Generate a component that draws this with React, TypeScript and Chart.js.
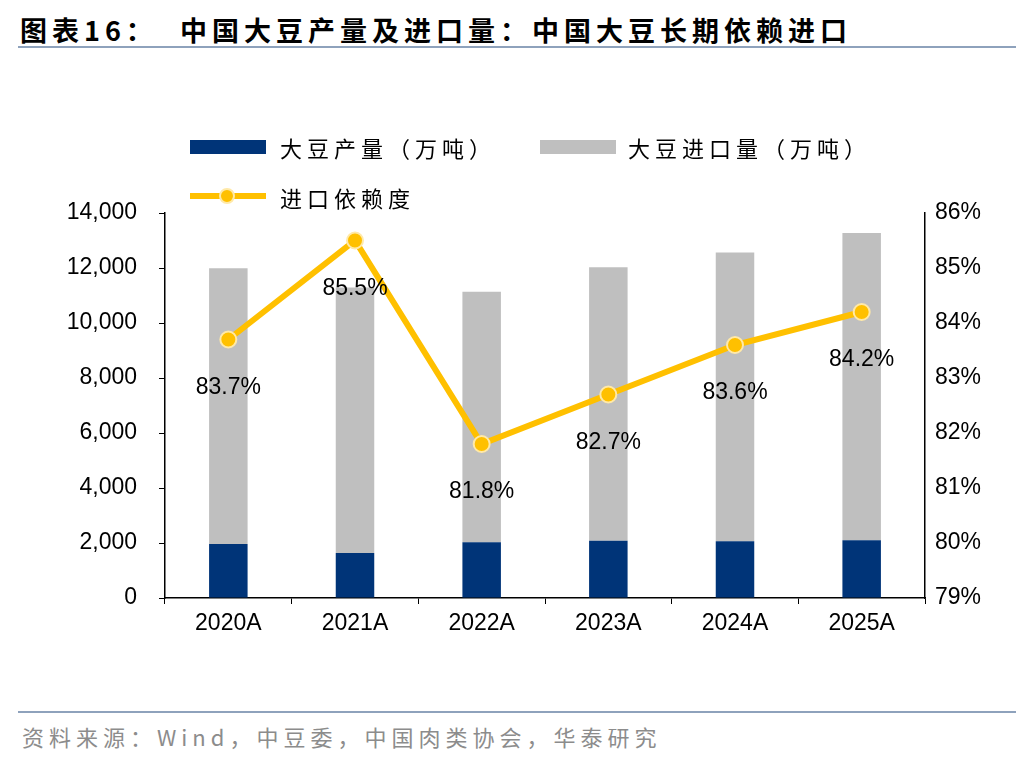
import React, { useEffect, useRef } from "react";
import { Chart, registerables } from "chart.js";
Chart.register(...registerables);

const categories = ["2020A", "2021A", "2022A", "2023A", "2024A", "2025A"];
const production = [1960, 1640, 2028, 2084, 2065, 2100];
const imports = [10033, 9652, 9108, 9941, 10503, 11170];
const dependence = [83.7, 85.5, 81.8, 82.7, 83.6, 84.2];
const leftTicks = [0, 2000, 4000, 6000, 8000, 10000, 12000, 14000];

const FONT = "'Liberation Sans', Arial, sans-serif";
const CJK = "'Noto Sans CJK SC', sans-serif";

const labelPlugin = {
  id: "lbl",
  afterDatasetsDraw(chart: any) {
    const meta = chart.getDatasetMeta(0);
    const ctx = chart.ctx;
    ctx.save();
    ctx.font = "23px " + FONT;
    ctx.fillStyle = "#000";
    ctx.textAlign = "center";
    ctx.textBaseline = "middle";
    meta.data.forEach((p: any, i: number) => {
      ctx.fillText(dependence[i].toFixed(1) + "%", p.x, p.y + 48);
    });
    ctx.restore();
  },
};

export default function App() {
  const ref = useRef<HTMLCanvasElement>(null);
  useEffect(() => {
    document.body.style.margin = "0";
    const axisGrid = { drawOnChartArea: false, color: "#000", tickLength: 6, tickColor: "#000" };
    const chart = new Chart(ref.current!, {
      data: {
        labels: categories,
        datasets: [
          { type: "line", label: "进口依赖度", data: dependence, yAxisID: "y2", borderColor: "#FFC000", borderWidth: 6, pointRadius: 8, pointBackgroundColor: "#FFC000", pointBorderColor: "#FFE9A8", pointBorderWidth: 2, order: 0 } as any,
          { type: "bar", label: "大豆产量（万吨）", data: production, backgroundColor: "#003478", stack: "s", barPercentage: 0.38, categoryPercentage: 0.8, order: 2 },
          { type: "bar", label: "大豆进口量（万吨）", data: imports, backgroundColor: "#BFBFBF", stack: "s", barPercentage: 0.38, categoryPercentage: 0.8, order: 2 },
        ],
      },
      options: {
        animation: false,
        responsive: false,
        layout: { padding: { top: 213, bottom: 62, left: 0, right: 0 } },
        plugins: { legend: { display: false }, tooltip: { enabled: false } },
        scales: {
          x: {
            stacked: true,
            grid: { ...axisGrid, offset: true },
            border: { color: "#000", width: 1.5 },
            ticks: { color: "#000", font: { family: FONT, size: 23 }, padding: 6 },
            afterFit: (s: any) => { s.height = 40; },
          },
          y: {
            stacked: true, min: 0, max: 14000,
            afterBuildTicks: (s: any) => { s.ticks = leftTicks.map((v) => ({ value: v })); },
            grid: axisGrid,
            border: { color: "#000", width: 1.5 },
            ticks: { color: "#000", font: { family: FONT, size: 23 }, padding: 22, callback: (v: any) => Number(v).toLocaleString("en-US") },
            afterFit: (s: any) => { s.width = 165; },
          },
          y2: {
            position: "right", min: 79, max: 86,
            grid: { drawOnChartArea: false, drawTicks: false },
            border: { color: "#000", width: 1.5 },
            ticks: { color: "#000", font: { family: FONT, size: 23 }, padding: 10, stepSize: 1, callback: (v: any) => v + "%" },
            afterFit: (s: any) => { s.width = 111; },
          },
        },
      },
      plugins: [labelPlugin],
    } as any);
    return () => chart.destroy();
  }, []);

  const legText: React.CSSProperties = { position: "absolute", fontFamily: CJK, fontSize: 22, letterSpacing: 5, color: "#000", lineHeight: "26px" };
  return (
    <div style={{ position: "relative", width: 1036, height: 760, background: "#fff", overflow: "hidden" }}>
      <div style={{ position: "absolute", left: 20, top: 10, fontFamily: CJK, fontWeight: 700, fontSize: 27, color: "#000", letterSpacing: 5, whiteSpace: "nowrap" }}>
        图表16：&nbsp;&nbsp;中国大豆产量及进口量：中国大豆长期依赖进口
      </div>
      <div style={{ position: "absolute", left: 18, top: 46, width: 998, height: 2, background: "#8EA2BC" }} />
      <canvas ref={ref} width={1036} height={700} style={{ position: "absolute", left: 0, top: 0 }} />
      <div style={{ position: "absolute", left: 190, top: 140, width: 76, height: 14, background: "#003478" }} />
      <div style={{ ...legText, left: 280, top: 134 }}>大豆产量（万吨）</div>
      <div style={{ position: "absolute", left: 540, top: 140, width: 76, height: 14, background: "#BFBFBF" }} />
      <div style={{ ...legText, left: 628, top: 134 }}>大豆进口量（万吨）</div>
      <div style={{ position: "absolute", left: 190, top: 193, width: 76, height: 6, background: "#FFC000" }} />
      <div style={{ position: "absolute", left: 219, top: 188, width: 12, height: 12, borderRadius: 8, background: "#FFC000", border: "2px solid #FFE9A8" }} />
      <div style={{ ...legText, left: 280, top: 184 }}>进口依赖度</div>
      <div style={{ position: "absolute", left: 18, top: 711, width: 998, height: 2, background: "#8EA2BC" }} />
      <div style={{ position: "absolute", left: 22, top: 720, fontFamily: CJK, fontSize: 22, color: "#8C8C8C", letterSpacing: 5, whiteSpace: "nowrap" }}>
        资料来源：Wind，中豆委，中国肉类协会，华泰研究
      </div>
    </div>
  );
}
